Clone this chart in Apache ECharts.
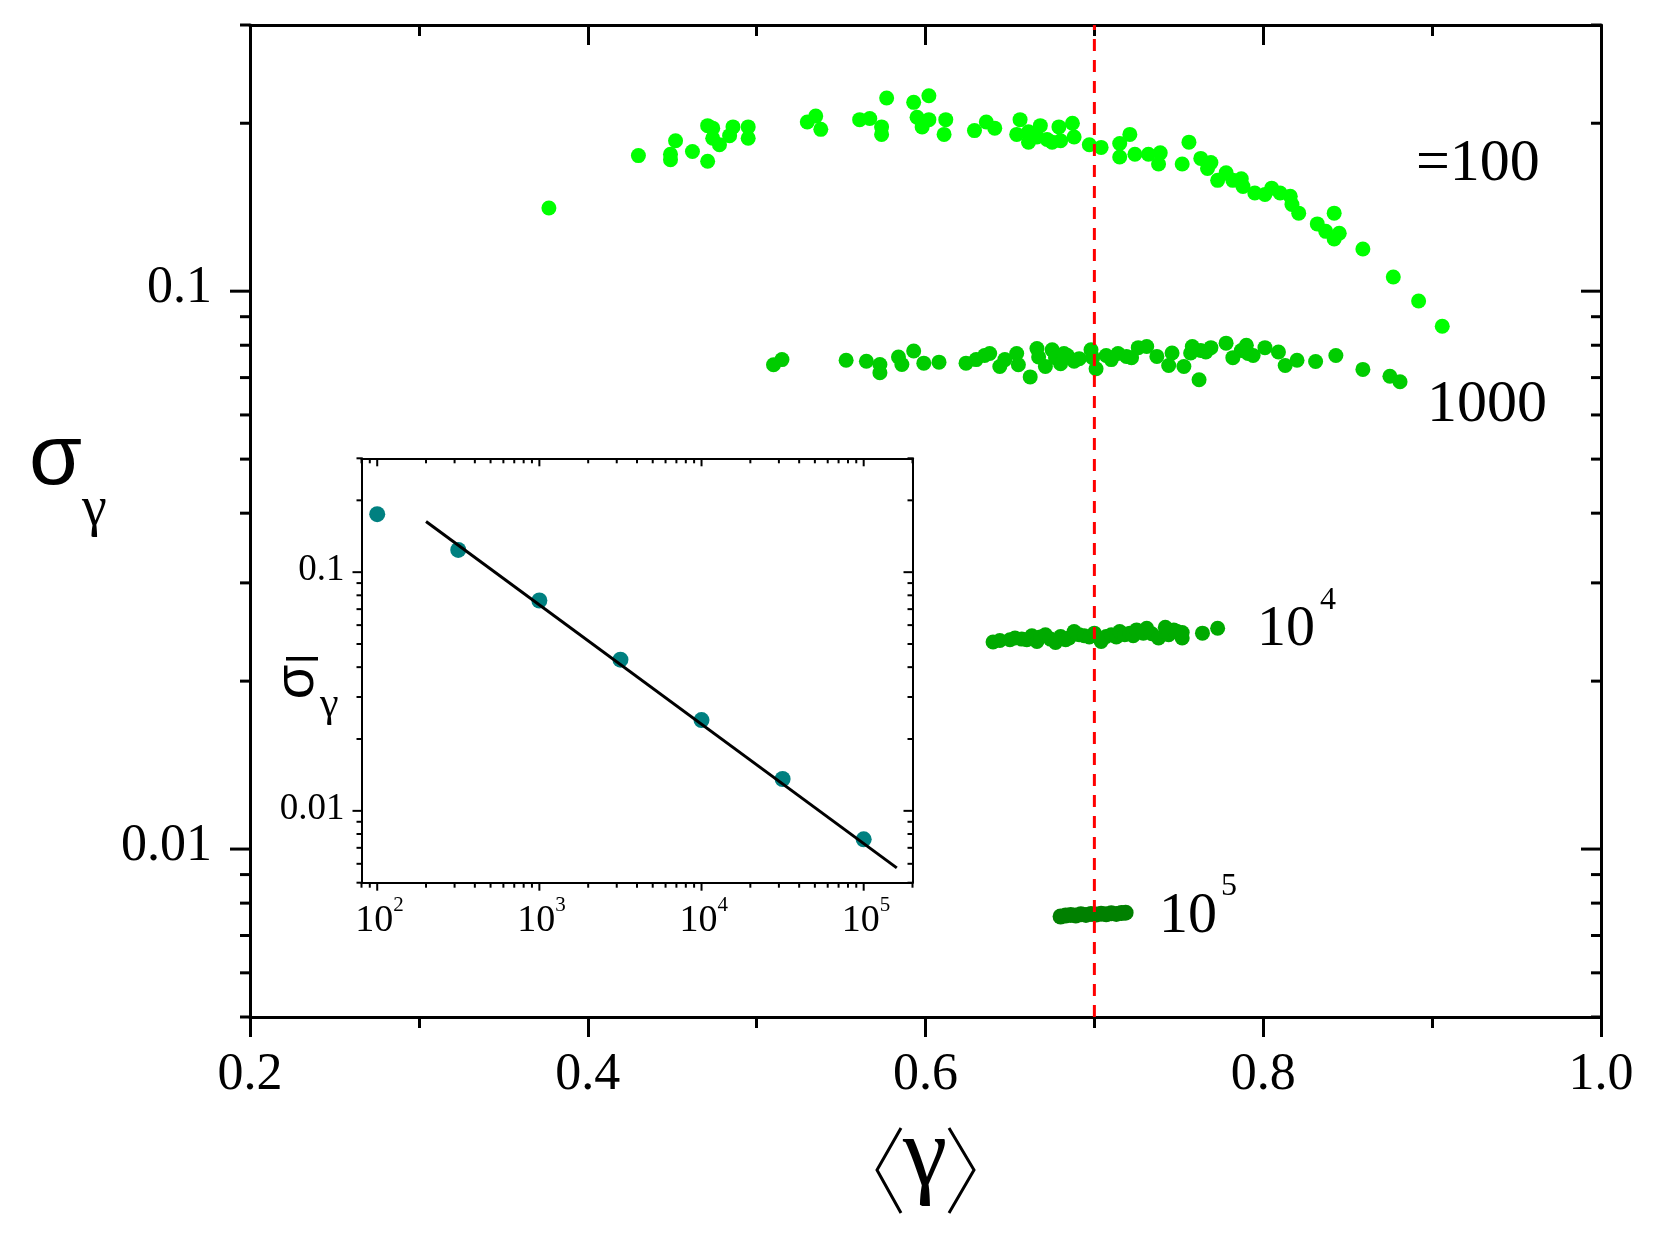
<!DOCTYPE html>
<html>
<head>
<meta charset="utf-8">
<script src="https://cdn.jsdelivr.net/npm/echarts@6/dist/echarts.min.js"></script>
<style>
  html, body { margin: 0; padding: 0; background: #fff; }
  #chart { width: 1661px; height: 1243px; }
</style>
</head>
<body>
<div id="chart"></div>
<script>
// ---- main panel: sigma_gamma vs <gamma>, one cloud per system size ----
const n100 = [
  [0.377, 0.141], [0.430, 0.175], [0.449, 0.176], [0.449, 0.172], [0.452, 0.186], [0.462, 0.178],
  [0.471, 0.171], [0.471, 0.198], [0.474, 0.196], [0.474, 0.188], [0.478, 0.183], [0.484, 0.190],
  [0.486, 0.197], [0.495, 0.197], [0.495, 0.188], [0.530, 0.201], [0.535, 0.206], [0.538, 0.195],
  [0.561, 0.203], [0.567, 0.204], [0.574, 0.197], [0.574, 0.191], [0.577, 0.222], [0.593, 0.218],
  [0.595, 0.205], [0.598, 0.197], [0.602, 0.224], [0.602, 0.203], [0.612, 0.203], [0.611, 0.191],
  [0.629, 0.194], [0.636, 0.201], [0.641, 0.196], [0.656, 0.203], [0.654, 0.191], [0.661, 0.193],
  [0.661, 0.185], [0.666, 0.189], [0.668, 0.198], [0.672, 0.187], [0.675, 0.185], [0.679, 0.197],
  [0.680, 0.186], [0.687, 0.200], [0.688, 0.189], [0.697, 0.183], [0.704, 0.181], [0.715, 0.184],
  [0.721, 0.191], [0.715, 0.174], [0.724, 0.176], [0.732, 0.176], [0.739, 0.177], [0.738, 0.169],
  [0.752, 0.169], [0.756, 0.185], [0.763, 0.173], [0.767, 0.166], [0.769, 0.170], [0.773, 0.158],
  [0.778, 0.163], [0.782, 0.158], [0.787, 0.159], [0.788, 0.154], [0.795, 0.150], [0.801, 0.149],
  [0.805, 0.153], [0.810, 0.150], [0.816, 0.148], [0.817, 0.143], [0.821, 0.138], [0.832, 0.132],
  [0.842, 0.138], [0.837, 0.128], [0.842, 0.124], [0.845, 0.127], [0.859, 0.119], [0.877, 0.106],
  [0.892, 0.096], [0.906, 0.0865]
];
const n1000 = [
  [0.510, 0.0738], [0.515, 0.0754], [0.553, 0.0752], [0.565, 0.0749], [0.573, 0.0739], [0.573, 0.0714],
  [0.584, 0.0762], [0.586, 0.0739], [0.593, 0.0781], [0.599, 0.0743], [0.608, 0.0746], [0.624, 0.0743],
  [0.630, 0.0754], [0.635, 0.0767], [0.638, 0.0773], [0.644, 0.0733], [0.647, 0.0754], [0.654, 0.0773],
  [0.655, 0.0738], [0.662, 0.0702], [0.666, 0.0789], [0.667, 0.0762], [0.671, 0.0733], [0.675, 0.0785],
  [0.677, 0.0760], [0.680, 0.0741], [0.682, 0.0773], [0.684, 0.0767], [0.688, 0.0749], [0.691, 0.0757],
  [0.698, 0.0785], [0.699, 0.0760], [0.701, 0.0726], [0.707, 0.0767], [0.710, 0.0754], [0.714, 0.0773],
  [0.719, 0.0764], [0.722, 0.0760], [0.726, 0.0792], [0.731, 0.0796], [0.737, 0.0764], [0.744, 0.0736],
  [0.746, 0.0775], [0.753, 0.0733], [0.757, 0.0775], [0.758, 0.0796], [0.762, 0.0694], [0.763, 0.0783],
  [0.766, 0.0778], [0.769, 0.0792], [0.778, 0.0807], [0.782, 0.0760], [0.787, 0.0783], [0.790, 0.0800],
  [0.791, 0.0773], [0.794, 0.0767], [0.801, 0.0792], [0.809, 0.0778], [0.813, 0.0736], [0.820, 0.0752],
  [0.831, 0.0748], [0.843, 0.0767], [0.859, 0.0724], [0.875, 0.0704], [0.881, 0.0688]
];
const n1e4 = [
  [0.640, 0.0235], [0.644, 0.02365], [0.650, 0.02372], [0.653, 0.02389], [0.657, 0.02379], [0.660, 0.02372],
  [0.663, 0.02412], [0.666, 0.02356], [0.668, 0.02399], [0.671, 0.02422], [0.674, 0.02379], [0.677, 0.02346],
  [0.680, 0.02405], [0.683, 0.02372], [0.685, 0.02389], [0.688, 0.02455], [0.691, 0.02422], [0.694, 0.02412],
  [0.697, 0.02399], [0.700, 0.02438], [0.704, 0.02356], [0.707, 0.02405], [0.710, 0.02422], [0.713, 0.02399],
  [0.715, 0.02455], [0.718, 0.02422], [0.721, 0.02438], [0.723, 0.02412], [0.725, 0.02471], [0.729, 0.02438],
  [0.731, 0.02488], [0.734, 0.02432], [0.738, 0.02389], [0.742, 0.02498], [0.744, 0.02422], [0.747, 0.02471],
  [0.749, 0.02455], [0.752, 0.02389], [0.752, 0.02445], [0.764, 0.02438], [0.773, 0.02488]
];
const n1e5 = [
  [0.680, 0.00757], [0.683, 0.00760], [0.686, 0.00762], [0.689, 0.00760], [0.692, 0.00764], [0.695, 0.00762],
  [0.698, 0.00765], [0.701, 0.00763], [0.704, 0.00766], [0.707, 0.00764], [0.710, 0.00767], [0.713, 0.00765],
  [0.716, 0.00768], [0.7185, 0.00769]
];
const refGamma = [0.7];            // red dashed guide
const sizeLabels = ['=100', '1000', '10', '10'];

// ---- inset: mean sigma vs N, with power-law fit ----
const insetN = [100, 316, 1000, 3162, 10000, 31623, 100000];
const insetSigma = [0.175, 0.124, 0.0761, 0.0430, 0.0240, 0.0136, 0.0076];
const fitN = [200, 160000];
const fitSigma = [0.163, 0.00577];

// axis ranges and tick values
const mainX = [0.2, 1.0];
const mainY = [0.005, 0.3];
const insetX = [80, 200000];
const insetY = [0.005, 0.3];
const yMajor = [0.01, 0.1];
const yMajorLabels = ['0.01', '0.1'];
const yMinor = [0.005, 0.006, 0.007, 0.008, 0.009, 0.02, 0.03, 0.04, 0.05, 0.06, 0.07, 0.08, 0.09, 0.2, 0.3];
const insetXMajor = [100, 1000, 10000, 100000];
const insetXExp = ['2', '3', '4', '5'];
const insetXMinor = [80, 90, 200, 300, 400, 500, 600, 700, 800, 900, 2000, 3000, 4000, 5000, 6000, 7000, 8000, 9000,
  20000, 30000, 40000, 50000, 60000, 70000, 80000, 90000, 200000];

const SERIF = '"Liberation Serif", "Times New Roman", serif';
const SANS = '"Liberation Sans", Arial, sans-serif';

// log-axis ticks (left outward, right inward) drawn through the axis scale
function yTicks(xi, yi, xr, values, len, lw, labels, font, gap, dy) {
  return {
    type: 'custom', xAxisIndex: xi, yAxisIndex: yi, silent: true, clip: false, z: 10,
    data: values.map(v => [xr[0], v]),
    renderItem: (params, api) => {
      const v = api.value(1);
      const l = api.coord([xr[0], v]);
      const r = api.coord([xr[1], v]);
      const children = [
        { type: 'line', shape: { x1: l[0] - len, y1: l[1], x2: l[0], y2: l[1] }, style: { stroke: '#000', lineWidth: lw } },
        { type: 'line', shape: { x1: r[0] - len, y1: r[1], x2: r[0], y2: r[1] }, style: { stroke: '#000', lineWidth: lw } }
      ];
      if (labels) {
        children.push({
          type: 'text', x: l[0] - gap, y: l[1] + dy,
          style: { text: labels[params.dataIndex], font: font, fill: '#000', align: 'right', verticalAlign: 'middle' }
        });
      }
      return { type: 'group', children: children };
    }
  };
}

// log-axis ticks on x (bottom outward, top inward)
function xTicks(xi, yi, yr, values, len, lw, exps) {
  return {
    type: 'custom', xAxisIndex: xi, yAxisIndex: yi, silent: true, clip: false, z: 10,
    data: values.map(v => [v, yr[0]]),
    renderItem: (params, api) => {
      const v = api.value(0);
      const b = api.coord([v, yr[0]]);
      const t = api.coord([v, yr[1]]);
      const children = [
        { type: 'line', shape: { x1: b[0], y1: b[1], x2: b[0], y2: b[1] + len }, style: { stroke: '#000', lineWidth: lw } },
        { type: 'line', shape: { x1: t[0], y1: t[1], x2: t[0], y2: t[1] + len }, style: { stroke: '#000', lineWidth: lw } }
      ];
      if (exps) {
        children.push({
          type: 'text', x: b[0] - 3, y: b[1] + 19,
          style: { text: '10', font: '38px ' + SERIF, fill: '#000', align: 'center', verticalAlign: 'top' }
        });
        children.push({
          type: 'text', x: b[0] + 16, y: b[1] + 12,
          style: { text: exps[params.dataIndex], font: '21px ' + SERIF, fill: '#000', align: 'left', verticalAlign: 'top' }
        });
      }
      return { type: 'group', children: children };
    }
  };
}

const axisLine3 = { show: true, onZero: false, lineStyle: { color: '#000', width: 3 } };
const axisLine2 = { show: true, onZero: false, lineStyle: { color: '#000', width: 2 } };
const noTick = { show: false };

const chart = echarts.init(document.getElementById('chart'));
const option = {
  animation: false,
  backgroundColor: '#fff',
  grid: [
    { left: 250, top: 25, width: 1351, height: 992, outerBoundsMode: 'none' },
    { left: 361.5, top: 458.3, width: 551, height: 424.4, outerBoundsMode: 'none' }
  ],
  xAxis: [
    {
      gridIndex: 0, type: 'value', position: 'bottom', min: mainX[0], max: mainX[1], interval: 0.2,
      axisLine: axisLine3,
      axisTick: { show: true, length: 20, lineStyle: { color: '#000', width: 3 } },
      minorTick: { show: true, splitNumber: 2, length: 11, lineStyle: { color: '#000', width: 3 } },
      axisLabel: { show: true, margin: 32, color: '#000', fontSize: 52, fontFamily: SERIF, formatter: v => v.toFixed(1) },
      splitLine: { show: false }
    },
    {
      gridIndex: 0, type: 'value', position: 'top', min: mainX[0], max: mainX[1], interval: 0.2,
      axisLine: axisLine3,
      axisTick: { show: true, inside: true, length: 20, lineStyle: { color: '#000', width: 3 } },
      minorTick: { show: true, splitNumber: 2, length: 11, lineStyle: { color: '#000', width: 3 } },
      axisLabel: { show: false },
      splitLine: { show: false }
    },
    {
      gridIndex: 1, type: 'log', logBase: 10, position: 'bottom', min: insetX[0], max: insetX[1],
      axisLine: axisLine2, axisTick: noTick, axisLabel: { show: false }, splitLine: { show: false }
    },
    {
      gridIndex: 1, type: 'log', logBase: 10, position: 'top', min: insetX[0], max: insetX[1],
      axisLine: axisLine2, axisTick: noTick, axisLabel: { show: false }, splitLine: { show: false }
    }
  ],
  yAxis: [
    {
      gridIndex: 0, type: 'log', logBase: 10, position: 'left', min: mainY[0], max: mainY[1],
      axisLine: axisLine3, axisTick: noTick, axisLabel: { show: false }, splitLine: { show: false }
    },
    {
      gridIndex: 0, type: 'log', logBase: 10, position: 'right', min: mainY[0], max: mainY[1],
      axisLine: axisLine3, axisTick: noTick, axisLabel: { show: false }, splitLine: { show: false }
    },
    {
      gridIndex: 1, type: 'log', logBase: 10, position: 'left', min: insetY[0], max: insetY[1],
      axisLine: axisLine2, axisTick: noTick, axisLabel: { show: false }, splitLine: { show: false }
    },
    {
      gridIndex: 1, type: 'log', logBase: 10, position: 'right', min: insetY[0], max: insetY[1],
      axisLine: axisLine2, axisTick: noTick, axisLabel: { show: false }, splitLine: { show: false }
    }
  ],
  series: [
    { name: 'N=100', type: 'scatter', xAxisIndex: 0, yAxisIndex: 0, data: n100, symbolSize: 15, itemStyle: { color: '#00FF00', opacity: 1 } },
    { name: 'N=1000', type: 'scatter', xAxisIndex: 0, yAxisIndex: 0, data: n1000, symbolSize: 15, itemStyle: { color: '#00CC00', opacity: 1 } },
    { name: 'N=1e4', type: 'scatter', xAxisIndex: 0, yAxisIndex: 0, data: n1e4, symbolSize: 15, itemStyle: { color: '#00AA00', opacity: 1 } },
    { name: 'N=1e5', type: 'scatter', xAxisIndex: 0, yAxisIndex: 0, data: n1e5, symbolSize: 16, itemStyle: { color: '#008000', opacity: 1 } },
    {
      name: 'ref', type: 'line', xAxisIndex: 0, yAxisIndex: 0, z: 5, symbol: 'none', silent: true,
      data: [[refGamma[0], mainY[0]], [refGamma[0], mainY[1]]],
      lineStyle: { color: '#FF0000', width: 3, type: [12, 9] }
    },
    { name: 'mean', type: 'scatter', xAxisIndex: 2, yAxisIndex: 2, data: insetN.map((n, i) => [n, insetSigma[i]]), symbolSize: 16, itemStyle: { color: '#008080', opacity: 1 } },
    {
      name: 'fit', type: 'line', xAxisIndex: 2, yAxisIndex: 2, z: 5, symbol: 'none', silent: true,
      data: fitN.map((n, i) => [n, fitSigma[i]]),
      lineStyle: { color: '#000', width: 3 }
    },
    yTicks(0, 0, mainX, yMajor, 20, 3, yMajorLabels, '52px ' + SERIF, 38, -3),
    yTicks(0, 0, mainX, yMinor, 10, 3, null),
    yTicks(2, 2, insetX, yMajor, 9, 2, yMajorLabels, '37px ' + SERIF, 17, -2),
    yTicks(2, 2, insetX, yMinor, 5, 2, null),
    xTicks(2, 2, insetY, insetXMajor, 8, 2, insetXExp),
    xTicks(2, 2, insetY, insetXMinor, 5, 2, null)
  ],
  graphic: [
    // main axis titles
    { type: 'text', left: 29, top: 417, style: { text: 'σ', font: '86px ' + SANS, fill: '#000' } },
    { type: 'text', left: 82, top: 482, style: { text: 'γ', font: '56px ' + SERIF, fill: '#000' } },
    { type: 'polyline', shape: { points: [[901, 1128], [877, 1170], [901, 1213]] }, style: { stroke: '#000', lineWidth: 3, fill: null } },
    { type: 'text', left: 903, top: 1109, style: { text: 'γ', font: '100px ' + SERIF, fill: '#000' } },
    { type: 'polyline', shape: { points: [[949, 1128], [974, 1170], [949, 1213]] }, style: { stroke: '#000', lineWidth: 3, fill: null } },
    // inset y title
    { type: 'rect', shape: { x: 286, y: 657, width: 32, height: 3.5 }, style: { fill: '#000' } },
    { type: 'text', x: 298, y: 682, rotation: Math.PI / 2, style: { text: 'σ', font: '56px ' + SANS, fill: '#000', align: 'center', verticalAlign: 'middle' } },
    { type: 'text', left: 320, top: 684, style: { text: 'γ', font: '42px ' + SERIF, fill: '#000' } },
    // size annotations
    { type: 'text', left: 1416, top: 134, style: { text: sizeLabels[0], font: '60px ' + SERIF, fill: '#000' } },
    { type: 'text', left: 1427, top: 375, style: { text: sizeLabels[1], font: '60px ' + SERIF, fill: '#000' } },
    { type: 'text', left: 1257, top: 601, style: { text: sizeLabels[2], font: '58px ' + SERIF, fill: '#000' } },
    { type: 'text', left: 1320, top: 585, style: { text: '4', font: '32px ' + SERIF, fill: '#000' } },
    { type: 'text', left: 1159, top: 888, style: { text: sizeLabels[3], font: '58px ' + SERIF, fill: '#000' } },
    { type: 'text', left: 1221, top: 871, style: { text: '5', font: '32px ' + SERIF, fill: '#000' } }
  ]
};
chart.setOption(option);
</script>
</body>
</html>
